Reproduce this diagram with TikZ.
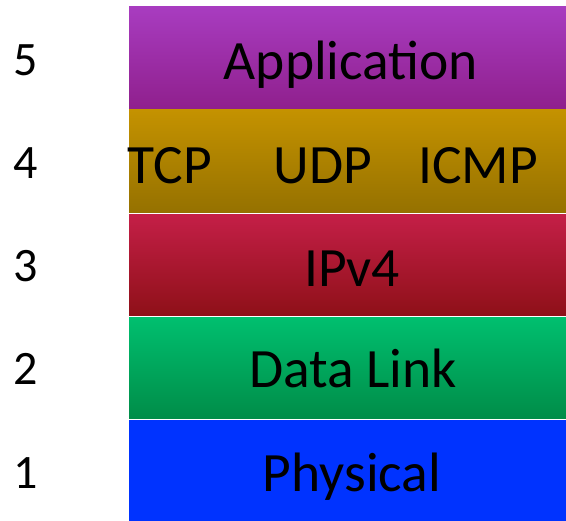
\documentclass[tikz,border=0pt]{standalone}
\usepackage{fontspec}
\setmainfont{Carlito}
\definecolor{appT}{HTML}{A83CC0}
\definecolor{appB}{HTML}{8F1F8C}
\definecolor{tcpT}{HTML}{C49200}
\definecolor{tcpB}{HTML}{957100}
\definecolor{ipT}{HTML}{C41F47}
\definecolor{ipB}{HTML}{8E1018}
\definecolor{dlT}{HTML}{00BF6F}
\definecolor{dlB}{HTML}{008C48}
\definecolor{phy}{HTML}{0033FF}
\begin{document}
\begin{tikzpicture}[x=1pt,y=-1pt,
  band/.style={rectangle,inner sep=0pt,minimum width=437pt,draw=none},
  lbl/.style={anchor=base,inner sep=0pt,text=black,font=\fontsize{55.5}{60}\selectfont},
  num/.style={anchor=base,inner sep=0pt,text=black,font=\fontsize{48}{54}\selectfont}]
\useasboundingbox[fill=white] (0,0) rectangle (566,521);
\node[band,minimum height=103pt,top color=appT,bottom color=appB] (app) at (347.5,58.5) {};
\node[band,minimum height=103pt,top color=tcpT,bottom color=tcpB] (tr) at (347.5,161.5) {};
\node[band,minimum height=101.5pt,top color=ipT,bottom color=ipB] (ip) at (347.5,265.25) {};
\node[band,minimum height=101.5pt,top color=dlT,bottom color=dlB] (dl) at (347.5,368.25) {};
\node[band,minimum height=100.5pt,fill=phy] (ph) at (347.5,470.75) {};
\node[lbl] (tapp) at (351,80) {Application};
\node[lbl] (ttcp) at (170,184) {TCP};
\node[lbl] (tudp) at (323,184) {UDP};
\node[lbl] (ticmp) at (478,184) {ICMP};
\node[lbl] (tip) at (352,287) {IPv4};
\node[lbl] (tdl) at (353,388) {Data Link};
\node[lbl] (tph) at (352,492) {Physical};
\node[num] (n5) at (26,76) {5};
\node[num] (n4) at (26,179) {4};
\node[num] (n3) at (26,282) {3};
\node[num] (n2) at (26,385) {2};
\node[num] (n1) at (26,489) {1};
\end{tikzpicture}
\end{document}
